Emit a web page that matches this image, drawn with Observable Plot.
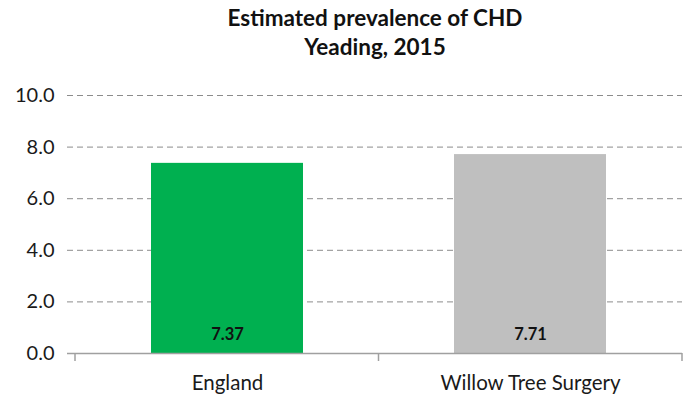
<!DOCTYPE html>
<html>
<head>
<meta charset="utf-8">
<script src="https://cdn.jsdelivr.net/npm/d3@7"></script>
<script src="https://cdn.jsdelivr.net/npm/@observablehq/plot@0.6"></script>
<style>
  html, body { margin: 0; padding: 0; background: #fff; }
  #wrap { width: 683px; height: 399px; position: relative; font-family: Lato, "Open Sans", sans-serif; }
  #title { position: absolute; left: 0; top: 3px; width: 683px; text-align: center; font-weight: bold; font-size: 22.5px; line-height: 29px; color: #111; padding-left: 67px; box-sizing: border-box; }
  #chart { position: absolute; left: 0; top: 70px; }
</style>
</head>
<body>
<div id="wrap">
  <div id="title">Estimated prevalence of CHD<br>Yeading, 2015</div>
  <div id="chart"></div>
</div>
<script>
const categories = ["England", "Willow Tree Surgery"];
const values = [7.37, 7.71];
const barColors = ["#00B050", "#BFBFBF"];
const yTicks = [0, 2, 4, 6, 8, 10];
const gridTicks = [2, 4, 6, 8, 10];

const data = categories.map((c, i) => ({category: c, value: values[i], color: barColors[i]}));

function categoryTicks(index, scales, values, dim, context) {
  const doc = context ? context.document : document;
  const g = doc.createElementNS("http://www.w3.org/2000/svg", "g");
  const n = categories.length;
  const left = dim.marginLeft, right = dim.width - dim.marginRight;
  const y0 = dim.height - dim.marginBottom;
  for (let k = 0; k <= n; k++) {
    const x = left + k * (right - left) / n;
    const l = doc.createElementNS("http://www.w3.org/2000/svg", "line");
    l.setAttribute("x1", x); l.setAttribute("x2", x);
    l.setAttribute("y1", y0); l.setAttribute("y2", y0 + 8);
    l.setAttribute("stroke", "#a0a0a0");
    l.setAttribute("stroke-width", 1.5);
    g.appendChild(l);
  }
  return g;
}

const chart = Plot.plot({
  width: 683,
  height: 329,
  marginLeft: 75,
  marginRight: 1,
  marginTop: 25,
  marginBottom: 46,
  style: {fontFamily: "Lato, 'Open Sans', sans-serif", color: "#1a1a1a", background: "#fff"},
  x: {domain: categories, paddingInner: 0.5, paddingOuter: 0.25, label: null},
  y: {domain: [0, 10], label: null},
  marks: [
    Plot.ruleY(gridTicks, {stroke: "#8c8c8c", strokeDasharray: "6,4", strokeWidth: 1, insetLeft: -8}),
    Plot.barY(data, {x: "category", y: "value", fill: "color"}),
    Plot.ruleY([0], {stroke: "#a0a0a0", strokeWidth: 1.5, insetLeft: -8}),
    Plot.ruleX([0], {frameAnchor: "left", stroke: "#a0a0a0", strokeWidth: 1.5, y1: 0, y2: 10}),
    Plot.axisY({ticks: yTicks, tickFormat: d => d.toFixed(1), tickSize: 0, tickPadding: 21, fontSize: 20, label: null}),
    Plot.axisX({tickSize: 0, tickPadding: 22, fontSize: 20.5, label: null}),
    Plot.text(data, {x: "category", y: 0, text: d => d.value.toFixed(2), dy: -19, fontWeight: "bold", fontSize: 16.5, fill: "#111"}),
    categoryTicks
  ]
});
document.getElementById("chart").appendChild(chart);
</script>
</body>
</html>
